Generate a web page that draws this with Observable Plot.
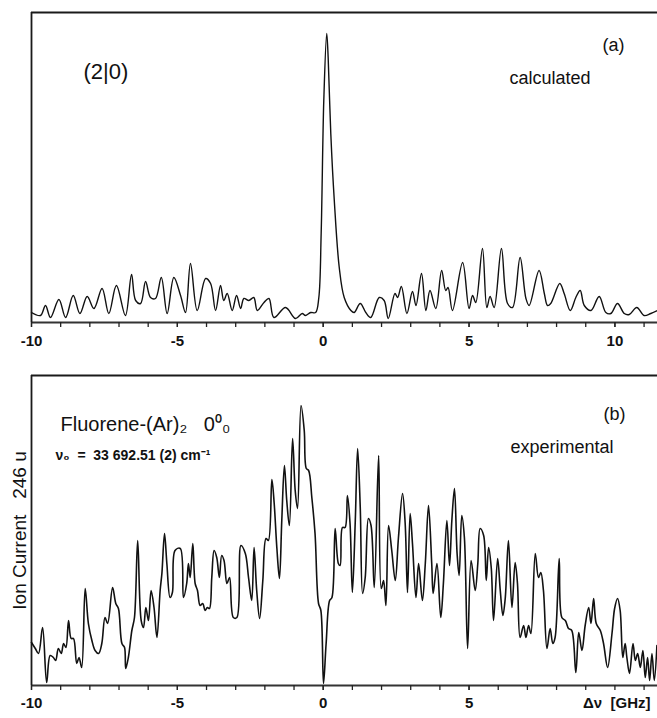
<!DOCTYPE html>
<html><head><meta charset="utf-8">
<script src="https://cdn.jsdelivr.net/npm/d3@7"></script>
<script src="https://cdn.jsdelivr.net/npm/@observablehq/plot@0.6"></script>
<style>
html,body{margin:0;padding:0;background:#fff;}
#chart{width:657px;height:718px;overflow:hidden;position:relative;}
#chart svg{display:block;}
#chart svg text{white-space:pre;}
g[aria-label="x-axis tick label"] text{font-weight:bold;}
g[aria-label="label-idx"] text{letter-spacing:2.5px;}
</style></head><body><div id="chart"></div>
<script>
// ---------- Data ----------
// (a) calculated spectrum: frequency offset (GHz) and intensity (arb. units)
const calcX = [-10.00,-9.69,-9.52,-9.35,-9.06,-8.83,-8.57,-8.34,-8.09,-7.86,
  -7.58,-7.35,-7.09,-6.78,-6.57,-6.43,-6.26,-6.09,-5.92,-5.75,
  -5.55,-5.35,-5.12,-4.89,-4.72,-4.55,-4.32,-4.03,-3.86,-3.69,
  -3.52,-3.41,-3.29,-3.12,-2.97,-2.83,-2.72,-2.55,-2.38,-2.26,
  -2.03,-1.86,-1.69,-1.29,-0.95,-0.72,-0.61,-0.43,-0.26,-0.15,
  -0.07,0.02,0.12,0.17,0.26,0.38,0.55,0.72,0.95,1.06,
  1.27,1.46,1.63,1.92,2.09,2.23,2.46,2.55,2.68,2.87,
  3.06,3.18,3.37,3.52,3.66,3.86,4.06,4.20,4.28,4.43,
  4.78,5.00,5.12,5.23,5.46,5.61,5.72,5.86,6.11,6.32,
  6.49,6.75,6.95,7.06,7.40,7.58,7.69,7.80,8.11,8.26,
  8.47,8.66,8.81,8.95,9.18,9.46,9.69,9.86,10.09,10.32,
  10.49,10.75,11.00,11.23,11.46];
const calcY = [10,7,17,5,23,5,27,9,26,14,
  34,9,37,7,48,22,19,41,25,24,
  45,9,45,27,10,59,12,44,39,12,
  37,22,29,12,27,14,24,22,25,12,
  20,24,5,15,4,9,7,10,10,25,
  89,222,289,265,189,122,55,25,12,10,
  19,10,5,25,22,4,29,25,36,9,
  31,17,49,12,32,14,52,32,35,12,
  60,14,27,20,74,15,26,15,74,19,
  15,65,24,17,52,29,17,19,39,29,
  12,25,32,17,12,26,10,9,19,9,
  8,15,7,9,12];

// (b) experimental spectrum: frequency offset (GHz) and ion current (arb. units)
const expX = [-10.00,-9.87,-9.76,-9.62,-9.48,-9.36,-9.25,-9.17,-9.08,-8.98,
  -8.90,-8.82,-8.73,-8.64,-8.56,-8.45,-8.37,-8.28,-8.16,-8.05,
  -7.93,-7.82,-7.70,-7.59,-7.48,-7.39,-7.22,-7.11,-7.02,-6.90,
  -6.81,-6.77,-6.68,-6.56,-6.47,-6.36,-6.24,-6.16,-6.08,-5.99,
  -5.90,-5.80,-5.70,-5.59,-5.53,-5.44,-5.36,-5.25,-5.17,-5.08,
  -4.90,-4.79,-4.68,-4.62,-4.56,-4.47,-4.39,-4.31,-4.22,-4.13,
  -4.05,-3.97,-3.90,-3.82,-3.74,-3.65,-3.56,-3.48,-3.40,-3.30,
  -3.21,-3.08,-2.96,-2.82,-2.67,-2.56,-2.45,-2.37,-2.28,-2.18,
  -2.07,-1.96,-1.88,-1.76,-1.68,-1.59,-1.50,-1.42,-1.33,-1.25,
  -1.16,-1.05,-0.96,-0.88,-0.76,-0.65,-0.58,-0.50,-0.39,-0.28,
  -0.16,-0.08,0.01,0.10,0.22,0.30,0.41,0.52,0.58,0.66,
  0.75,0.83,0.92,1.00,1.10,1.18,1.27,1.35,1.44,1.55,
  1.64,1.75,1.90,1.99,2.07,2.15,2.24,2.35,2.47,2.58,
  2.72,2.81,2.89,2.98,3.06,3.18,3.27,3.40,3.50,3.61,
  3.72,3.77,3.90,4.03,4.12,4.24,4.33,4.41,4.50,4.59,
  4.66,4.75,4.84,4.95,5.07,5.21,5.30,5.38,5.50,5.59,
  5.67,5.76,5.84,5.98,6.07,6.16,6.24,6.35,6.47,6.58,
  6.66,6.75,6.87,6.95,7.04,7.12,7.27,7.38,7.46,7.55,
  7.67,7.78,7.87,7.95,8.09,8.18,8.30,8.41,8.52,8.66,
  8.76,8.87,8.98,9.10,9.18,9.27,9.36,9.50,9.61,9.75,
  9.90,9.99,10.09,10.18,10.27,10.35,10.41,10.50,10.62,10.70,
  10.78,10.87,10.96,11.04,11.12,11.19,11.27,11.35,11.44];
const expY = [43,37,32,58,3,30,28,25,37,32,
  42,38,65,47,47,22,28,18,97,62,
  45,35,32,42,68,62,98,82,77,42,
  38,17,28,55,68,145,65,58,78,65,
  95,78,48,95,112,152,122,88,93,135,
  137,88,102,122,108,142,102,95,80,82,
  75,78,77,108,135,128,108,130,125,102,
  108,68,68,140,132,108,85,138,95,67,
  105,147,145,206,182,138,107,165,220,185,
  160,247,195,177,280,255,217,215,188,152,
  82,75,2,42,85,88,157,122,120,158,
  158,190,162,93,165,237,178,92,108,167,
  160,98,230,97,105,80,160,135,105,148,
  192,162,93,172,142,88,122,85,122,180,
  122,92,122,68,102,165,120,165,197,132,
  110,170,148,37,125,95,122,157,150,105,
  138,118,65,127,95,70,87,145,78,123,
  102,48,60,48,60,52,132,108,113,95,
  37,57,42,48,127,68,65,57,55,13,
  53,35,60,78,62,87,62,55,42,18,
  52,77,87,75,28,42,28,12,42,25,
  32,18,35,8,28,5,32,5,40];

// Axis ticks and labels
const xDomain = [-10, 11.46];
const yDomain = [0, 310];
const xMinorTicks = [-10,-9,-8,-7,-6,-5,-4,-3,-2,-1,0,1,2,3,4,5,6,7,8,9,10,11];
const xTicksA = [-10, -5, 0, 5, 10];
const xTickLabelsA = ["-10", "-5", "0", "5", "10"];
const xTicksB = [-10, -5, 0, 5];
const xTickLabelsB = ["-10", "-5", "0", "5"];

// Texts
const labelIdx = "(2|0)";
const labelA = "(a)";
const labelCalc = "calculated";
const labelB = "(b)";
const labelExp = "experimental";
const labelMol = "Fluorene-(Ar)\u2082   0\u2070\u2080";
const labelNu = "\u03bd\u2080  =  33 692.51 (2) cm\u207b\u00b9";
const labelYB = "Ion Current   246 u";
const labelXB = "\u0394\u03bd  [GHz]";

// ---------- Build ----------
const font = "'Liberation Sans', Arial, Helvetica, sans-serif";
const calc = calcX.map((x, i) => ({x, y: calcY[i]}));
const exp = expX.map((x, i) => ({x, y: expY[i]}));

function frame() {
  return [
    Plot.ruleY([yDomain[1]], {stroke: "#1a1a1a", strokeWidth: 2}),
    Plot.ruleY([yDomain[0]], {stroke: "#333", strokeWidth: 2.2}),
    Plot.ruleX([xDomain[0]], {stroke: "#1a1a1a", strokeWidth: 1.8}),
    Plot.axisX({ticks: xMinorTicks, tickSize: 5, tickFormat: () => "", label: null, stroke: "#222", strokeWidth: 1.3})
  ];
}

const plotA = Plot.plot({
  width: 657, height: 352,
  marginLeft: 31, marginRight: 0, marginTop: 12, marginBottom: 30,
  x: {domain: xDomain, label: null},
  y: {domain: yDomain, axis: null},
  style: {fontFamily: font, fontSize: "15px", color: "#111", background: "transparent", overflow: "visible"},
  marks: [
    ...frame(),
    Plot.axisX({ticks: xTicksA, tickSize: 5, tickPadding: 8, label: null, stroke: "#222", strokeWidth: 1.3,
      tickFormat: d => xTickLabelsA[xTicksA.indexOf(d)]}),
    Plot.line(calc, {x: "x", y: "y", curve: "catmull-rom", stroke: "#111", strokeWidth: 1.4, strokeLinejoin: "round"}),
    Plot.text([labelIdx], {frameAnchor: "top-left", dx: 52, dy: 66, text: d => d, textAnchor: "start", lineAnchor: "bottom", fontSize: 22, ariaLabel: "label-idx"}),
    Plot.text([labelA], {frameAnchor: "top-left", dx: 571, dy: 38, text: d => d, textAnchor: "start", lineAnchor: "bottom", fontSize: 18}),
    Plot.text([labelCalc], {frameAnchor: "top-left", dx: 478, dy: 71, text: d => d, textAnchor: "start", lineAnchor: "bottom", fontSize: 18})
  ]
});

const plotB = Plot.plot({
  width: 657, height: 366,
  marginLeft: 31, marginRight: 0, marginTop: 23, marginBottom: 33,
  x: {domain: xDomain, label: null},
  y: {domain: yDomain, axis: null},
  style: {fontFamily: font, fontSize: "15px", color: "#111", background: "transparent", overflow: "visible"},
  marks: [
    ...frame(),
    Plot.axisX({ticks: xTicksB, tickSize: 5, tickPadding: 7, label: null, stroke: "#222", strokeWidth: 1.3,
      tickFormat: d => xTickLabelsB[xTicksB.indexOf(d)]}),
    Plot.line(exp, {x: "x", y: "y", curve: "catmull-rom", stroke: "#111", strokeWidth: 1.6, strokeLinejoin: "round"}),
    Plot.text([labelMol], {frameAnchor: "top-left", dx: 29, dy: 55, text: d => d, textAnchor: "start", lineAnchor: "bottom", fontSize: 20}),
    Plot.text([labelNu], {frameAnchor: "top-left", dx: 24, dy: 84, text: d => d, textAnchor: "start", lineAnchor: "bottom", fontSize: 14, fontWeight: "bold"}),
    Plot.text([labelB], {frameAnchor: "top-left", dx: 572, dy: 44, text: d => d, textAnchor: "start", lineAnchor: "bottom", fontSize: 18}),
    Plot.text([labelExp], {frameAnchor: "top-left", dx: 479, dy: 77, text: d => d, textAnchor: "start", lineAnchor: "bottom", fontSize: 18}),
    Plot.text([labelYB], {frameAnchor: "left", dx: -12, rotate: -90, text: d => d, textAnchor: "middle", fontSize: 19}),
    Plot.text([labelXB], {frameAnchor: "bottom-right", dx: -7, dy: 22, text: d => d, textAnchor: "end", lineAnchor: "bottom", fontSize: 15, fontWeight: "bold"})
  ]
});

const chart = document.getElementById("chart");
chart.appendChild(plotA);
chart.appendChild(plotB);
</script></body></html>
